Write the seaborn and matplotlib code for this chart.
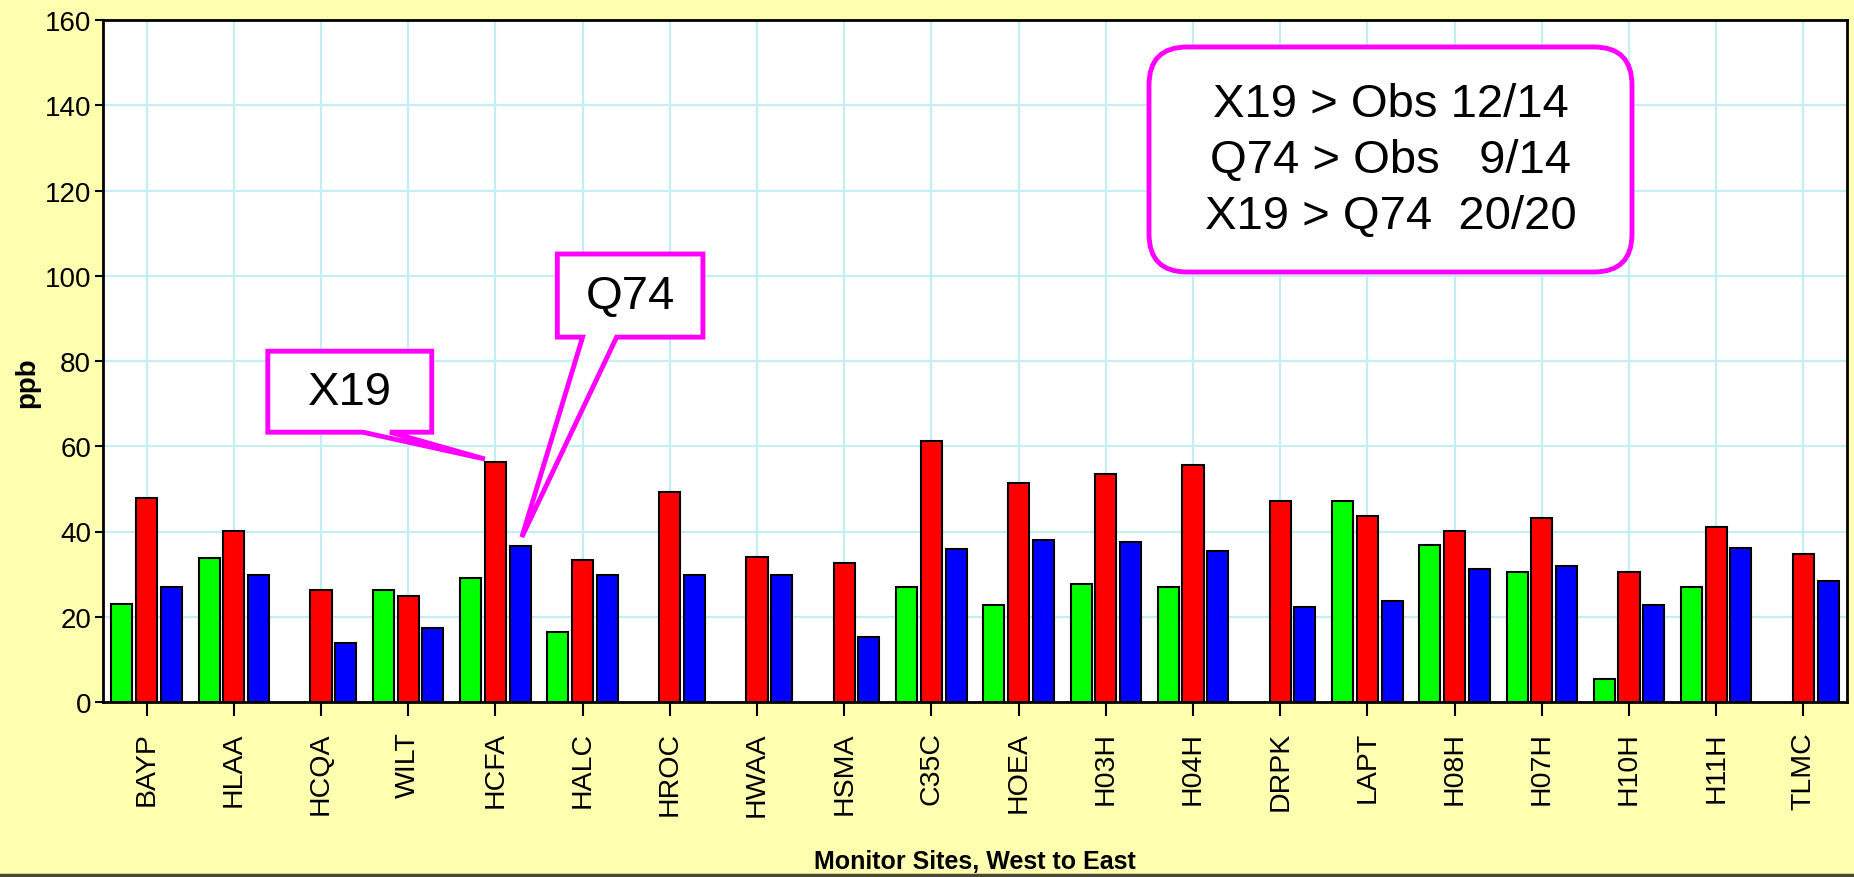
import numpy as np
import pandas as pd
import matplotlib
matplotlib.use("Agg")
import matplotlib.pyplot as plt
import seaborn as sns
from matplotlib.patches import Polygon, FancyBboxPatch
from matplotlib.lines import Line2D

nan = np.nan

sites = ["BAYP", "HLAA", "HCQA", "WILT", "HCFA", "HALC", "HROC", "HWAA", "HSMA", "C35C",
         "HOEA", "H03H", "H04H", "DRPK", "LAPT", "H08H", "H07H", "H10H", "H11H", "TLMC"]
obs = [23.0, 33.8, nan, 26.2, 29.0, 16.5, nan, nan, nan, 27.0,
       22.8, 27.7, 27.0, nan, 47.2, 36.9, 30.5, 5.5, 27.0, nan]
x19 = [47.8, 40.2, 26.2, 24.8, 56.2, 33.2, 49.2, 34.0, 32.7, 61.2,
       51.3, 53.5, 55.6, 47.2, 43.7, 40.2, 43.1, 30.5, 41.0, 34.8]
q74 = [27.0, 29.7, 13.8, 17.3, 36.6, 29.8, 29.8, 29.8, 15.2, 35.9,
       38.1, 37.5, 35.4, 22.2, 23.6, 31.2, 31.9, 22.8, 36.1, 28.5]
series = ["Obs", "X19", "Q74"]
colors = {"Obs": "#00ff00", "X19": "#ff0000", "Q74": "#0000ff"}
summary = "X19 > Obs 12/14\nQ74 > Obs   9/14\nX19 > Q74  20/20"

MAGENTA = "#ff00ff"

df = pd.DataFrame({"site": sites * 3,
                   "series": np.repeat(series, len(sites)),
                   "ppb": obs + x19 + q74})

sns.set_style("white")
plt.rcParams["font.family"] = ["Liberation Sans", "DejaVu Sans"]
plt.rcParams.update({"text.color": "black", "axes.labelcolor": "black",
                     "xtick.color": "black", "ytick.color": "black"})

fig = plt.figure(figsize=(18.54, 8.78), dpi=100, facecolor="#ffffb0")
ax = fig.add_axes([103 / 1854, 175 / 878, 1744 / 1854, 682 / 878])
ax.set_facecolor("white")

group_w, gap = 0.85, 0.15
sns.barplot(data=df, x="site", y="ppb", hue="series", order=sites, hue_order=series,
            palette=colors, saturation=1, width=group_w, gap=gap, edgecolor="black",
            linewidth=1.5, errorbar=None, legend=False, ax=ax)

ax.set_xlim(-0.5, len(sites) - 0.5)
ax.set_ylim(0, 160)
ax.set_yticks(range(0, 161, 20))
ax.set_axisbelow(True)
ax.grid(True, color="#c4eef2", linewidth=1.6)

for s in ax.spines.values():
    s.set_visible(True)
    s.set_color("black")
    s.set_linewidth(2)

ax.tick_params(axis="x", bottom=True, length=10, width=1.5, pad=11, labelsize=20.5,
               labelrotation=90)
ax.tick_params(axis="y", left=True, length=6, width=1.5, pad=2.5, labelsize=20)

ax.set_xlabel("Monitor Sites, West to East", fontsize=18, fontweight="bold")
ax.xaxis.set_label_coords(0.5, -0.215)
ax.set_ylabel("ppb", fontsize=20, fontweight="bold")
ax.yaxis.set_label_coords(-0.036, 0.47)

# callout boxes pointing at HCFA bars
slot = group_w / len(series)
i = sites.index("HCFA")


def callout(box, base, tip, label):
    x0, x1, y0, y1 = box
    verts = [(x0, y0), (base[0], y0), tip, (base[1], y0), (x1, y0), (x1, y1), (x0, y1)]
    ax.add_patch(Polygon(verts, closed=True, fc="white", ec=MAGENTA, lw=3.5,
                         joinstyle="miter", zorder=5, clip_on=False))
    ax.text((x0 + x1) / 2, (y0 + y1) / 2, label, fontsize=34, ha="center", va="center",
            zorder=6)


callout((1.39, 3.27, 63.3, 82.3), (2.48, 2.79), (i - 0.12, x19[i] + 0.8), "X19")
callout((4.71, 6.38, 85.6, 105.1), (5.0, 5.39), (i + slot + 0.02, q74[i] + 2.1), "Q74")

# summary box
fig.add_artist(FancyBboxPatch((11.49, 6.05), 4.83, 2.25,
                              boxstyle="round,pad=0,rounding_size=0.38",
                              transform=fig.dpi_scale_trans, fc="white", ec=MAGENTA,
                              lw=3.5, zorder=5))
fig.text(13.905, 7.17, summary, transform=fig.dpi_scale_trans, fontsize=34, ha="center",
         va="center", multialignment="center", linespacing=1.34, zorder=6)

# dark border along the bottom of the figure
fig.add_artist(Line2D([0, 1], [0.002, 0.002], transform=fig.transFigure,
                      color="#4a4a30", lw=2.5))

fig.savefig("out.png", dpi=100, facecolor=fig.get_facecolor())
